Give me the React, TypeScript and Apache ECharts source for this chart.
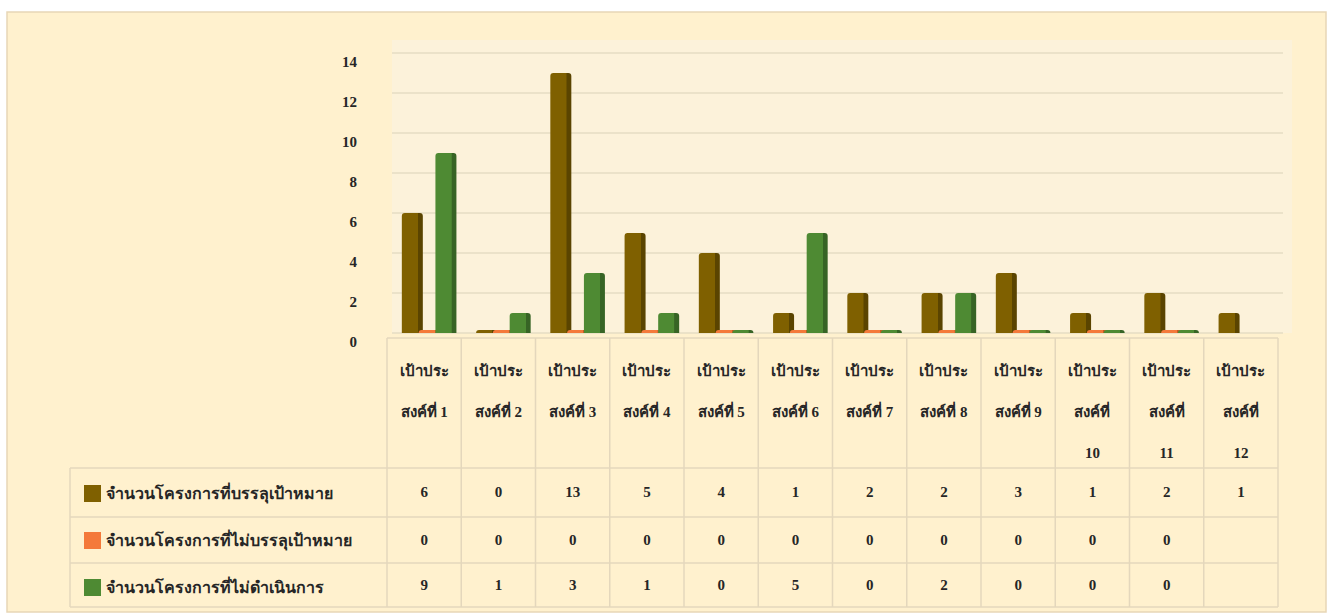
import React, { useEffect, useRef } from "react";
import * as echarts from "echarts";

const categories = [
  "เป้าประสงค์ที่ 1",
  "เป้าประสงค์ที่ 2",
  "เป้าประสงค์ที่ 3",
  "เป้าประสงค์ที่ 4",
  "เป้าประสงค์ที่ 5",
  "เป้าประสงค์ที่ 6",
  "เป้าประสงค์ที่ 7",
  "เป้าประสงค์ที่ 8",
  "เป้าประสงค์ที่ 9",
  "เป้าประสงค์ที่ 10",
  "เป้าประสงค์ที่ 11",
  "เป้าประสงค์ที่ 12",
];
const seriesNames = [
  "จำนวนโครงการที่บรรลุเป้าหมาย",
  "จำนวนโครงการที่ไม่บรรลุเป้าหมาย",
  "จำนวนโครงการที่ไม่ดำเนินการ",
];
const achieved = [6, 0, 13, 5, 4, 1, 2, 2, 3, 1, 2, 1];
const notAchieved = [0, 0, 0, 0, 0, 0, 0, 0, 0, 0, 0, null];
const notDone = [9, 1, 3, 1, 0, 5, 0, 2, 0, 0, 0, null];
const yMin = 0;
const yMax = 14;
const yStep = 2;

const seriesData = [achieved, notAchieved, notDone];
const mainColors = ["#7F6000", "#F4793A", "#4E8A33"];
const sideColors = ["#5A4400", "#C65A22", "#376425"];

const FONT = "'Liberation Serif', 'Times New Roman', 'DejaVu Serif', serif";
const TEXT = "#262626";
const LINE = "#E4D7BC";

// layout constants
const W = 1334;
const H = 615;
const TABLE_L = 387;
const TABLE_R = 1278;
const LEG_L = 70;
const ROWS_Y = [338, 468, 517, 563, 607];

function headerLabel(name: string): string {
  const head = "เป้าประ";
  const rest = name.slice(head.length);
  const m = rest.match(/^(.*?)\s(\d+)$/);
  if (m && m[2].length >= 2) return `${head}\n${m[1]}\n${m[2]}`;
  return `${head}\n${rest}`;
}

function fmtVal(v: number | null): string {
  return v === null || v === undefined ? "" : String(v);
}

export default function App() {
  const ref = useRef<HTMLDivElement>(null);
  useEffect(() => {
    if (!ref.current) return;
    const chart = echarts.init(ref.current, null, { renderer: "svg" });
    const colW = (TABLE_R - TABLE_L) / categories.length;

    const graphics: any[] = [
      {
        type: "rect",
        z: -10,
        shape: { x: 7, y: 12, width: 1319, height: 600 },
        style: { fill: "#FFF1CE", stroke: "#E8D6B6", lineWidth: 1.5 },
        silent: true,
      },
      {
        type: "rect",
        z: -9,
        shape: { x: 392, y: 40, width: 900, height: 293 },
        style: { fill: "#FCF2DA" },
        silent: true,
      },
    ];
    ROWS_Y.forEach((y, i) => {
      graphics.push({
        type: "line",
        z: -5,
        shape: { x1: i === 0 ? TABLE_L : LEG_L, y1: y, x2: TABLE_R, y2: y },
        style: { stroke: LINE, lineWidth: 1.5 },
        silent: true,
      });
    });
    for (let i = 0; i <= categories.length; i++) {
      const x = TABLE_L + i * colW;
      graphics.push({
        type: "line",
        z: -5,
        shape: { x1: x, y1: ROWS_Y[0], x2: x, y2: ROWS_Y[4] },
        style: { stroke: LINE, lineWidth: 1.5 },
        silent: true,
      });
    }
    graphics.push({
      type: "line",
      z: -5,
      shape: { x1: LEG_L, y1: ROWS_Y[1], x2: LEG_L, y2: ROWS_Y[4] },
      style: { stroke: LINE, lineWidth: 1.5 },
      silent: true,
    });

    const valueAxis = (data: (number | null)[], margin: number) => ({
      type: "category",
      gridIndex: 1,
      data: categories,
      position: "bottom",
      axisLine: { show: false },
      axisTick: { show: false },
      splitLine: { show: false },
      axisLabel: {
        interval: 0,
        margin,
        fontFamily: FONT,
        fontWeight: "bold",
        fontSize: 15,
        lineHeight: 16,
        color: TEXT,
        formatter: (_v: string, idx: number) => fmtVal(data[idx]),
      },
    });

    const option: any = {
      animation: false,
      backgroundColor: "#FFFFFF",
      textStyle: { fontFamily: FONT },
      graphic: graphics,
      legend: {
        orient: "vertical",
        left: 79,
        top: 480,
        itemWidth: 17,
        itemHeight: 17,
        itemGap: 30,
        icon: "rect",
        textStyle: {
          fontFamily: FONT,
          fontWeight: "bold",
          fontSize: 16,
          color: TEXT,
        },
        data: seriesNames.map((n, i) => ({
          name: n,
          itemStyle: { color: mainColors[i] },
        })),
      },
      grid: [
        { left: 392, right: W - 1283, top: 53, bottom: H - 333 },
        { left: TABLE_L, right: W - TABLE_R, top: 333, height: 1 },
      ],
      xAxis: [
        {
          type: "category",
          gridIndex: 0,
          data: categories,
          axisLine: { show: false },
          axisTick: { show: false },
          axisLabel: { show: false },
          splitLine: { show: false },
        },
        {
          type: "category",
          gridIndex: 1,
          data: categories,
          position: "bottom",
          axisLine: { show: false },
          axisTick: { show: false },
          splitLine: { show: false },
          axisLabel: {
            interval: 0,
            margin: 16,
            fontFamily: FONT,
            fontWeight: "bold",
            fontSize: 15,
            lineHeight: 41,
            color: TEXT,
            formatter: (v: string) => headerLabel(v),
          },
        },
        valueAxis(achieved, 150),
        valueAxis(notAchieved, 198),
        valueAxis(notDone, 243),
      ],
      yAxis: [
        {
          type: "value",
          gridIndex: 0,
          min: yMin,
          max: yMax,
          interval: yStep,
          axisLine: { show: false },
          axisTick: { show: false },
          splitLine: { lineStyle: { color: "#E6DCC3", width: 1.5 } },
          axisLabel: {
            margin: 35,
            verticalAlign: "top",
            lineHeight: 18,
            fontFamily: FONT,
            fontWeight: "bold",
            fontSize: 15,
            color: TEXT,
          },
        },
        { type: "value", gridIndex: 1, show: false },
      ],
      series: seriesData.map((d, i) => ({
        name: seriesNames[i],
        type: "bar",
        xAxisIndex: 0,
        yAxisIndex: 0,
        data: d,
        barWidth: 21,
        barGap: "-20%",
        barMinHeight: 3,
        itemStyle: {
          color: new echarts.graphic.LinearGradient(0, 0, 1, 0, [
            { offset: 0, color: mainColors[i] },
            { offset: 0.76, color: mainColors[i] },
            { offset: 0.78, color: sideColors[i] },
            { offset: 1, color: sideColors[i] },
          ]),
          borderRadius: [3, 3, 0, 0],
        },
      })),
    };
    chart.setOption(option);
    return () => chart.dispose();
  }, []);
  return (
    <div
      ref={ref}
      style={{ position: "absolute", left: 0, top: 0, width: W, height: H }}
    />
  );
}
